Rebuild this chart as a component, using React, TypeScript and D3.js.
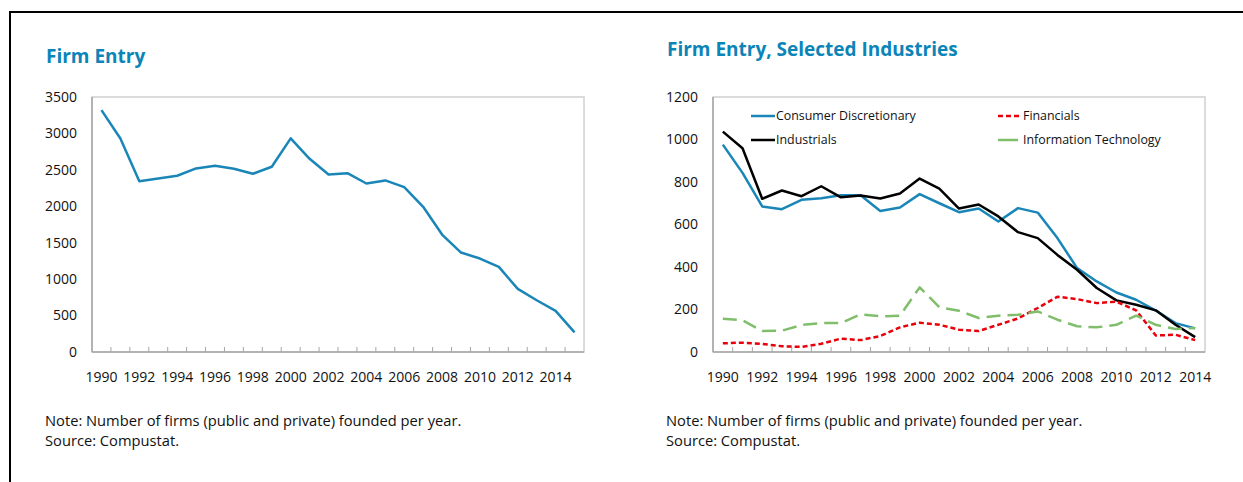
import React from "react"
import * as d3 from "d3"

// left chart: total firm entry per year
const entryYears = d3.range(1990, 2016)
const entryValues = [3320, 2930, 2345, 2380, 2419, 2520, 2556, 2515, 2446, 2542, 2932, 2652, 2437, 2455, 2313, 2355, 2263, 1993, 1612, 1365, 1283, 1168, 866, 710, 564, 270]
const entryTicks = [0, 500, 1000, 1500, 2000, 2500, 3000, 3500]

// right chart: selected industries
const industryYears = d3.range(1990, 2015)
const consumerDisc = [976, 843, 685, 672, 716, 724, 738, 738, 664, 680, 743, 700, 658, 675, 614, 677, 656, 536, 395, 332, 280, 246, 195, 136, 111]
const industrials = [1037, 959, 721, 760, 733, 780, 728, 736, 722, 746, 816, 769, 675, 694, 638, 564, 536, 457, 387, 301, 243, 222, 196, 128, 70]
const financials = [41, 44, 38, 27, 24, 39, 63, 56, 75, 116, 138, 128, 105, 99, 128, 158, 207, 260, 249, 230, 237, 196, 78, 81, 56]
const infoTech = [157, 149, 99, 100, 127, 136, 136, 177, 168, 171, 304, 211, 194, 160, 171, 175, 191, 152, 121, 116, 128, 171, 128, 108, 113]
const industryTicks = [0, 200, 400, 600, 800, 1000, 1200]

const titleColor = "#0b84b8"
const font = "'Open Sans', 'Noto Sans', sans-serif"

type Series = { name: string, values: number[], color: string, dash?: string, legendDash?: string, width: number }

const industrySeries: Series[] = [
    { name: "Consumer Discretionary", values: consumerDisc, color: "#1a86b8", width: 2.5 },
    { name: "Industrials", values: industrials, color: "#000000", width: 2.5 },
    { name: "Financials", values: financials, color: "#e8000b", dash: "5,3", legendDash: "5,3", width: 2.5 },
    { name: "Information Technology", values: infoTech, color: "#80be6c", dash: "14,7", width: 2.5 },
]

const Panel = ({ x0, years, series, yMax, ticks, title, titleY, legend }:
    { x0: number, years: number[], series: Series[], yMax: number, ticks: number[], title: string, titleY: number, legend?: boolean }) => {
    const left = x0 + 92, right = x0 + 584, top = 97, bottom = 352
    const x = d3.scaleBand<number>().domain(years).range([left, right])
    const y = d3.scaleLinear().domain([0, yMax]).range([bottom, top])
    const cx = (d: number) => (x(d) as number) + x.bandwidth() / 2
    const line = (vals: number[]) => d3.line<number>()
        .x((d, i) => cx(years[i]))
        .y(d => y(d))(vals) as string

    return (
        <g>
            <text x={x0 + 46} y={titleY} fill={titleColor} fontSize={19} fontWeight="bold" fontFamily={font}>{title}</text>
            <rect x={left} y={top} width={right - left} height={bottom - top} fill="none" stroke="#d0d0d0" strokeWidth={1.5} />
            <line x1={left} x2={left} y1={top} y2={bottom} stroke="#a6a6a6" strokeWidth={1.5} />
            <line x1={left} x2={right} y1={bottom} y2={bottom} stroke="#a6a6a6" strokeWidth={1.5} />
            {years.slice(1).map(yr => (
                <line key={yr} x1={x(yr)} x2={x(yr)} y1={bottom} y2={bottom - 5} stroke="#a6a6a6" strokeWidth={1} />
            ))}
            {ticks.map(t => (
                <text key={t} x={left - 15} y={y(t)} dy="0.35em" textAnchor="end" fontSize={14} fontFamily={font} fill="#111">{t}</text>
            ))}
            {years.filter(yr => yr % 2 === 0 && yr <= 2014).map(yr => (
                <text key={yr} x={cx(yr)} y={377} dy="0.35em" textAnchor="middle" fontSize={14} fontFamily={font} fill="#111">{yr}</text>
            ))}
            {series.map(s => (
                <path key={s.name} d={line(s.values)} fill="none" stroke={s.color} strokeWidth={s.width}
                    strokeDasharray={s.dash} strokeLinejoin="round" />
            ))}
            {legend && series.map((s, i) => {
                const row = i === 0 || i === 2 ? 116 : 140
                const col = i < 2 ? x0 + 130 : x0 + 377
                const len = s.legendDash || !s.dash ? 24 : 20
                return (
                    <g key={s.name}>
                        <line x1={col} x2={col + len} y1={row} y2={row} stroke={s.color} strokeWidth={s.width} strokeDasharray={s.legendDash} />
                        <text x={col + 25} y={row} dy="0.35em" fontSize={12.4} fontFamily={font} fill="#111">{s.name}</text>
                    </g>
                )
            })}
            <text x={x0 + 45} y={421} dy="0.35em" fontSize={14.7} fontFamily={font} fill="#111">Note: Number of firms (public and private) founded per year.</text>
            <text x={x0 + 45} y={441} dy="0.35em" fontSize={14.7} fontFamily={font} fill="#111">Source: Compustat.</text>
        </g>
    )
}

const App = () => {
    React.useEffect(() => { document.body.style.margin = "0" }, [])
    return (
        <svg width={1243} height={482} style={{ display: "block", background: "#fff" }}>
            <line x1={9} x2={1243} y1={12} y2={12} stroke="#000" strokeWidth={2} />
            <line x1={10} x2={10} y1={12} y2={482} stroke="#000" strokeWidth={2} />
            <Panel x0={0} years={entryYears} yMax={3500} ticks={entryTicks} title="Firm Entry" titleY={63}
                series={[{ name: "Firm Entry", values: entryValues, color: "#1a86b8", width: 2.5 }]} />
            <Panel x0={621} years={industryYears} yMax={1200} ticks={industryTicks} title="Firm Entry, Selected Industries" titleY={56}
                series={industrySeries} legend />
        </svg>
    )
}

export default App
